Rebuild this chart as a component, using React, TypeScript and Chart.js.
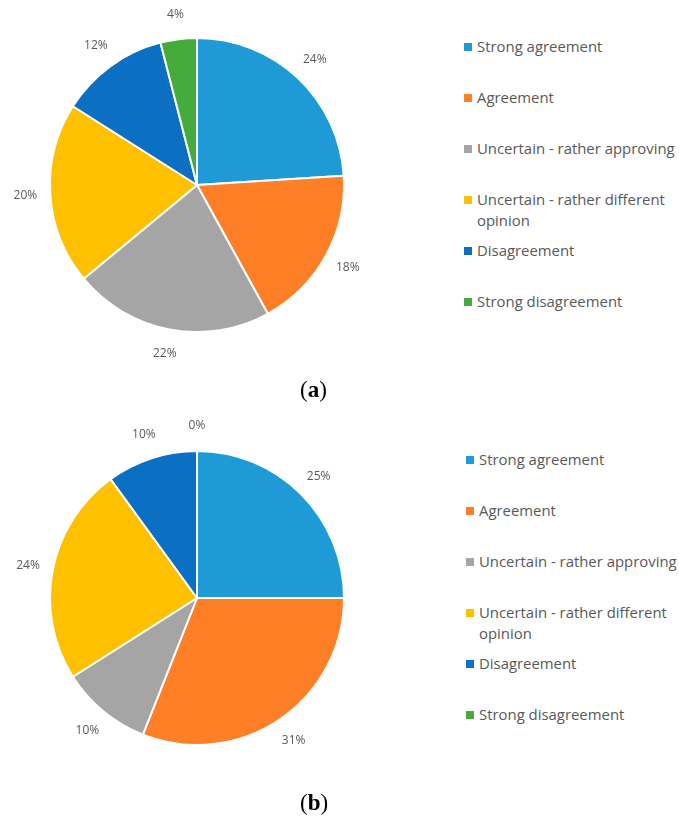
import React, { useEffect, useRef } from "react";
import { Chart, registerables } from "chart.js";

Chart.register(...registerables);

// Response categories and their colours
const categories = [
  "Strong agreement",
  "Agreement",
  "Uncertain - rather approving",
  "Uncertain - rather different opinion",
  "Disagreement",
  "Strong disagreement",
];
const colors = ["#1E9AD6", "#FF7F27", "#A5A5A5", "#FFC000", "#0B70C3", "#45AB3A"];

// Share of answers (%) for each panel
const valuesA = [24, 18, 22, 20, 12, 4];
const valuesB = [25, 31, 10, 24, 10, 0];

const TEXT_COLOR = "#595959";
const FONT = "'Open Sans', 'Liberation Sans', sans-serif";

// Percentage labels placed just outside each slice
const outsideLabels = {
  id: "outsideLabels",
  afterDatasetsDraw(chart: any) {
    const { ctx } = chart;
    const meta = chart.getDatasetMeta(0);
    const data = chart.data.datasets[0].data as number[];
    ctx.save();
    ctx.fillStyle = TEXT_COLOR;
    ctx.font = `12px ${FONT}`;
    ctx.textAlign = "center";
    ctx.textBaseline = "middle";
    meta.data.forEach((arc: any, i: number) => {
      const p = arc.getProps(["x", "y", "startAngle", "endAngle", "outerRadius"], true);
      const mid = (p.startAngle + p.endAngle) / 2;
      const d = p.outerRadius + 25;
      ctx.fillText(`${data[i]}%`, p.x + Math.cos(mid) * d, p.y + Math.sin(mid) * d);
    });
    ctx.restore();
  },
};

function PiePanel({ values, top, legendLeft, caption }: { values: number[]; top: number; legendLeft: number; caption: string }) {
  const ref = useRef<HTMLCanvasElement | null>(null);

  useEffect(() => {
    if (!ref.current) return;
    const chart = new Chart(ref.current, {
      type: "pie",
      data: {
        labels: categories,
        datasets: [
          {
            data: values,
            backgroundColor: colors,
            borderColor: "#FFFFFF",
            borderWidth: 2,
          },
        ],
      },
      options: {
        responsive: false,
        animation: false,
        devicePixelRatio: 1,
        radius: 147,
        layout: { padding: { left: 50, right: 76, top: 38, bottom: 74 } },
        plugins: {
          legend: { display: false },
          tooltip: { enabled: false },
        },
      } as any,
      plugins: [outsideLabels],
    });
    return () => chart.destroy();
  }, [values]);

  return (
    <div style={{ position: "absolute", left: 0, top, width: 679, height: 406 }}>
      <canvas ref={ref} width={420} height={406} style={{ position: "absolute", left: 0, top: 0 }} />
      {categories.map((c, i) => (
        <div
          key={c}
          style={{
            position: "absolute",
            left: legendLeft,
            top: 36 + i * 51,
            width: 212,
            display: "flex",
            alignItems: "flex-start",
            fontFamily: FONT,
            fontSize: 14.9,
            lineHeight: "21px",
            color: TEXT_COLOR,
          }}
        >
          <span
            style={{
              display: "inline-block",
              width: 8,
              height: 8,
              background: colors[i],
              marginTop: 7,
              marginRight: 5,
              flex: "0 0 auto",
            }}
          />
          <span>{c}</span>
        </div>
      ))}
      <div
        style={{
          position: "absolute",
          left: 300,
          top: 377,
          fontFamily: "'Liberation Serif', 'DejaVu Serif', serif",
          fontSize: 23,
          color: "#000",
        }}
      >
        ({<b>{caption}</b>})
      </div>
    </div>
  );
}

export default function App() {
  return (
    <div style={{ position: "fixed", left: 0, top: 0, width: 679, height: 819, background: "#FFFFFF", overflow: "hidden" }}>
      <PiePanel values={valuesA} top={0} legendLeft={464} caption="a" />
      <PiePanel values={valuesB} top={413} legendLeft={466} caption="b" />
    </div>
  );
}
